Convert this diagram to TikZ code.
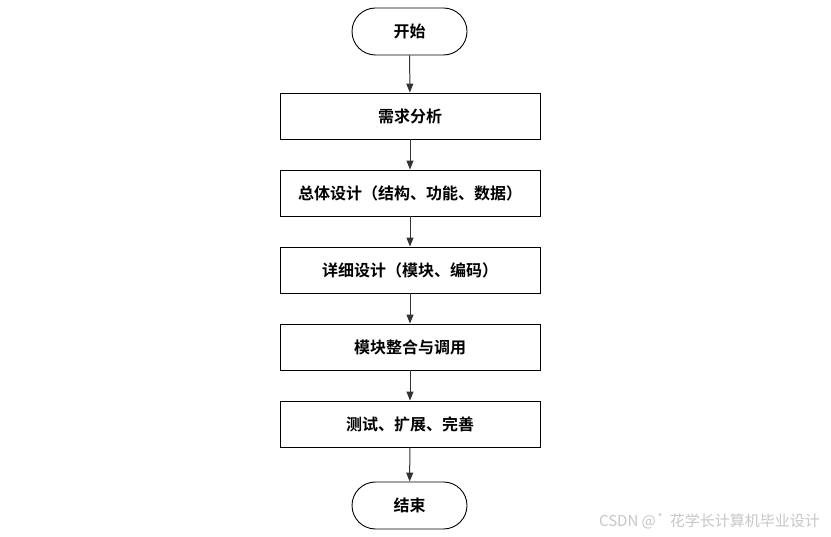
\documentclass[tikz,border=0pt]{standalone}
\usepackage{fontspec}
\newfontfamily\cjk{Noto Sans CJK SC}
\newfontfamily\cjkb{Noto Sans CJK SC Bold}
\usetikzlibrary{arrows.meta,shapes.misc}
\begin{document}
\begin{tikzpicture}[x=1pt,y=-1pt,
  procbox/.style={draw=black,line width=0.9pt,minimum width=260pt,minimum height=46pt,inner sep=0pt,font=\cjkb\fontsize{16}{19}\selectfont},
  term/.style={draw=black,line width=0.9pt,rounded rectangle,minimum width=115pt,minimum height=47pt,inner sep=0pt,font=\cjkb\fontsize{16}{19}\selectfont},
  conn/.style={draw=black!80,line width=1pt,-{Triangle[length=9pt,width=7pt]}}]
\useasboundingbox[fill=white] (0,0) rectangle (831,537);
\node[term] (s) at (409.5,31.5) {开始};
\node[procbox] (b1) at (410,116) {需求分析};
\node[procbox] (b2) at (410,193) {总体设计（结构、功能、数据）};
\node[procbox] (b3) at (410,270) {详细设计（模块、编码）};
\node[procbox] (b4) at (410,347) {模块整合与调用};
\node[procbox] (b5) at (410,424) {测试、扩展、完善};
\node[term] (e) at (409.5,505.5) {结束};
\draw[conn] (s) -- (b1);
\draw[conn] (b1) -- (b2);
\draw[conn] (b2) -- (b3);
\draw[conn] (b3) -- (b4);
\draw[conn] (b4) -- (b5);
\draw[conn] (b5) -- (e);
\node[anchor=east,text=black!22,font=\cjk\fontsize{15}{17}\selectfont,inner sep=0pt] (wm) at (820,521) {CSDN @\textsuperscript{\,*}\ \ 花学长计算机毕业设计};
\end{tikzpicture}
\end{document}
